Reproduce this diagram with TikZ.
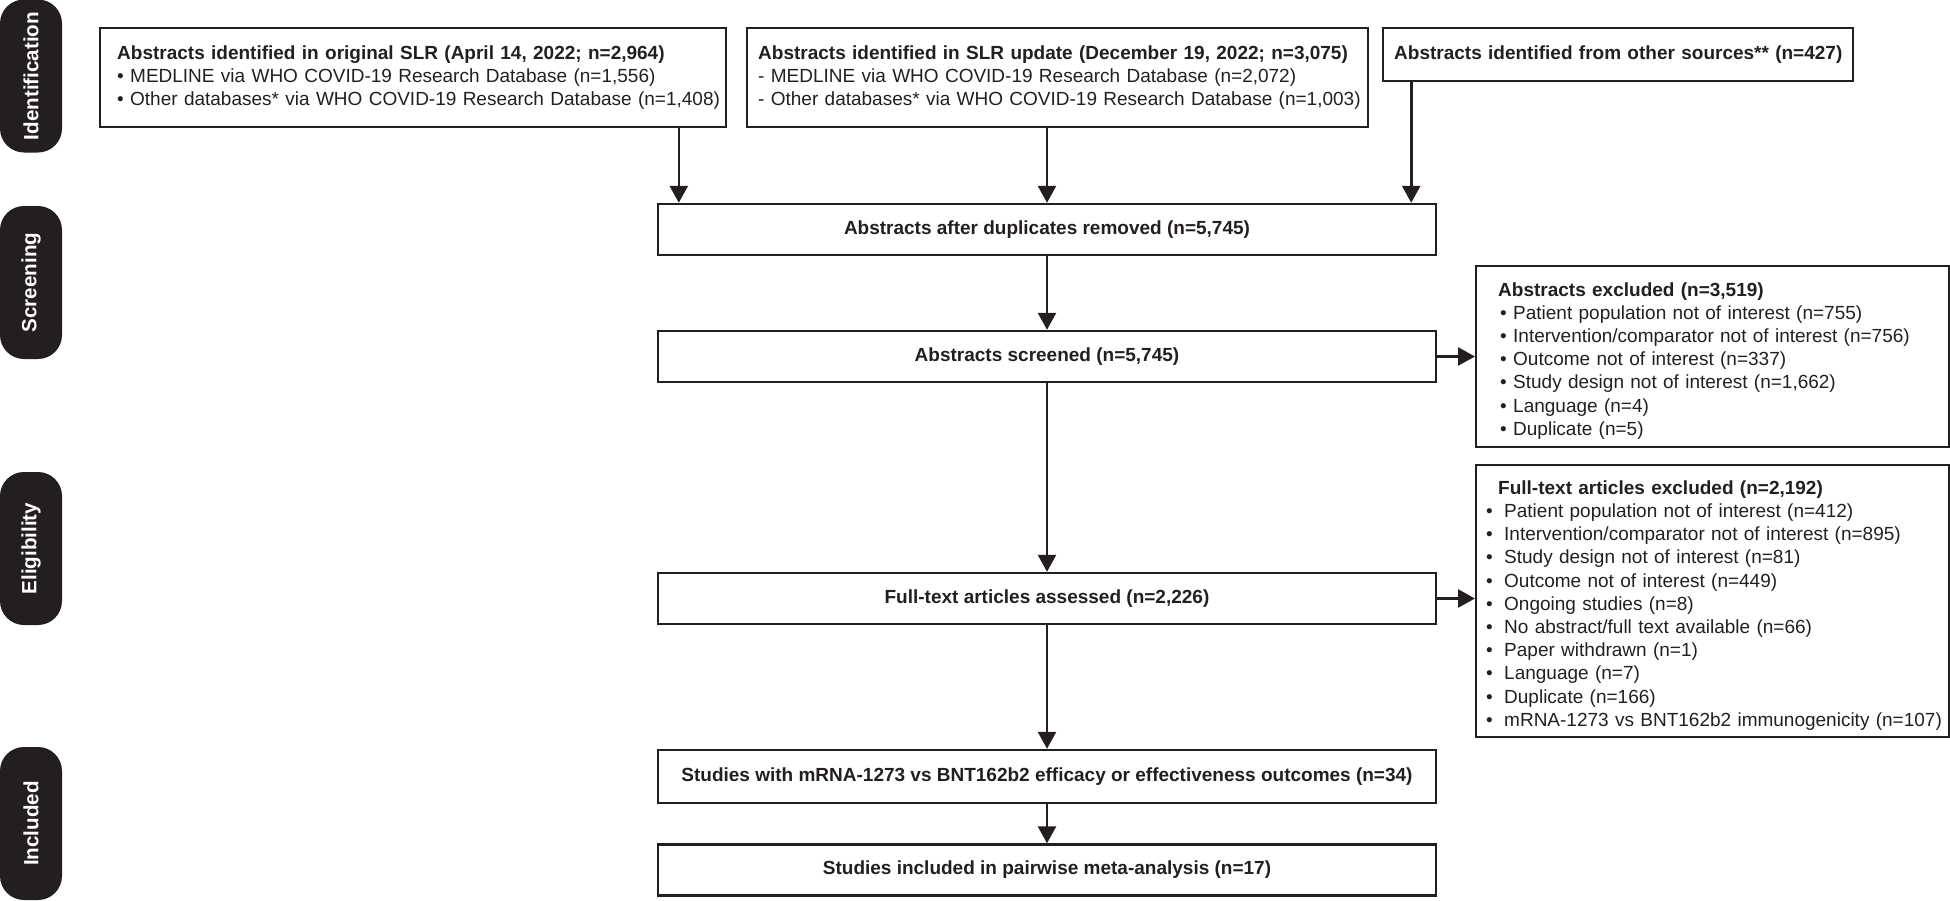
\documentclass[tikz,border=0pt]{standalone}
\usepackage{fontspec}
\setmainfont{Liberation Sans}
\usetikzlibrary{arrows.meta}
\definecolor{ink}{HTML}{231F20}
\newcommand\absitem[1]{\hspace*{12pt}• #1}
\newcommand\exitem[1]{\hspace*{5pt}\makebox[9pt][l]{•}#1}
\begin{document}
\begin{tikzpicture}[x=0.5pt,y=-0.5pt,line cap=butt,line join=miter,>={Triangle[width=9pt,length=8.5pt]}]
	\tikzset{every node/.style={font=\fontsize{9.5}{11.6}\selectfont,text=ink},
		box/.style={draw=ink,line width=1.2pt,inner ysep=0pt,minimum height=25.5pt},
		srcbox/.style={box,anchor=north west,align=left,inner xsep=0pt},
		mainbox/.style={box,minimum width=389pt,font=\fontsize{9.5}{11.6}\selectfont\bfseries},
		exclbox/.style={box,anchor=north west,inner xsep=0pt,text width=236.5pt,align=left},
		stage/.style={fill=ink,text=white,rounded corners=12pt,rotate=90,inner sep=0pt,
			minimum width=76.5pt,minimum height=31pt,font=\fontsize{10.3}{12}\selectfont\bfseries},
		link/.style={->,draw=ink,line width=1.3pt}
	}
	\useasboundingbox (0,0) rectangle (1950,900);
	\node[stage] (identification) at (31,76) {Identification};
	\node[stage] (screening) at (31,282.5) {Screening};
	\node[stage] (eligibility) at (31,548.5) {Eligibility};
	\node[stage] (included) at (31,823.5) {Included};
	\node[srcbox,text width=313pt,minimum height=49.5pt] (original) at (99,27)
		{\hspace*{8.5pt}\textbf{Abstracts identified in original SLR (April 14, 2022; n=2,964)}\\
		\hspace*{8.5pt}• MEDLINE via WHO COVID-19 Research Database (n=1,556)\\
		\hspace*{8.5pt}• Other databases* via WHO COVID-19 Research Database (n=1,408)};
	\node[srcbox,text width=310.5pt,minimum height=49.5pt] (update) at (746,27)
		{\hspace*{5.5pt}\textbf{Abstracts identified in SLR update (December 19, 2022; n=3,075)}\\
		\hspace*{5.5pt}- MEDLINE via WHO COVID-19 Research Database (n=2,072)\\
		\hspace*{5.5pt}- Other databases* via WHO COVID-19 Research Database (n=1,003)};
	\node[srcbox,text width=235pt,minimum height=26.5pt] (other) at (1382,27)
		{\hspace*{5.5pt}\textbf{Abstracts identified from other sources** (n=427)}};
	\node[mainbox] (dedup) at (1047,229.5) {Abstracts after duplicates removed (n=5,745)};
	\node[mainbox] (screened) at (1047,356.5) {Abstracts screened (n=5,745)};
	\node[mainbox] (assessed) at (1047,598.5) {Full-text articles assessed (n=2,226)};
	\node[mainbox,minimum height=26.5pt] (eligible) at (1047,776.5) {Studies with mRNA-1273 vs BNT162b2 efficacy or effectiveness outcomes (n=34)};
	\node[mainbox] (pairwise) at (1047,870) {Studies included in pairwise meta-analysis (n=17)};
	\node[exclbox,minimum height=90.5pt] (absexcl) at (1475,265)
		{\rule{0pt}{11pt}\hspace*{11pt}\textbf{Abstracts excluded (n=3,519)}\\
		\absitem{Patient population not of interest (n=755)}\\
		\absitem{Intervention/comparator not of interest (n=756)}\\
		\absitem{Outcome not of interest (n=337)}\\
		\absitem{Study design not of interest (n=1,662)}\\
		\absitem{Language (n=4)}\\
		\absitem{Duplicate (n=5)}};
	\node[exclbox,minimum height=136pt] (ftexcl) at (1475,464)
		{\rule{0pt}{11pt}\hspace*{11pt}\textbf{Full-text articles excluded (n=2,192)}\\
		\exitem{Patient population not of interest (n=412)}\\
		\exitem{Intervention/comparator not of interest (n=895)}\\
		\exitem{Study design not of interest (n=81)}\\
		\exitem{Outcome not of interest (n=449)}\\
		\exitem{Ongoing studies (n=8)}\\
		\exitem{No abstract/full text available (n=66)}\\
		\exitem{Paper withdrawn (n=1)}\\
		\exitem{Language (n=7)}\\
		\exitem{Duplicate (n=166)}\\
		\exitem{mRNA-1273 vs BNT162b2 immunogenicity (n=107)}};
	\draw[link] ([xshift=11pt]dedup.north west |- original.south) -- ([xshift=11pt]dedup.north west);
	\draw[link] (dedup.north |- update.south) -- (dedup.north);
	\draw[link] ([xshift=-13pt]dedup.north east |- other.south) -- ([xshift=-13pt]dedup.north east);
	\draw[link] (dedup) -- (screened);
	\draw[link] (screened.east) -- (screened.east -| absexcl.west);
	\draw[link] (screened) -- (assessed);
	\draw[link] (assessed.east) -- (assessed.east -| ftexcl.west);
	\draw[link] (assessed) -- (eligible);
	\draw[link] (eligible) -- (pairwise);
\end{tikzpicture}
\end{document}
